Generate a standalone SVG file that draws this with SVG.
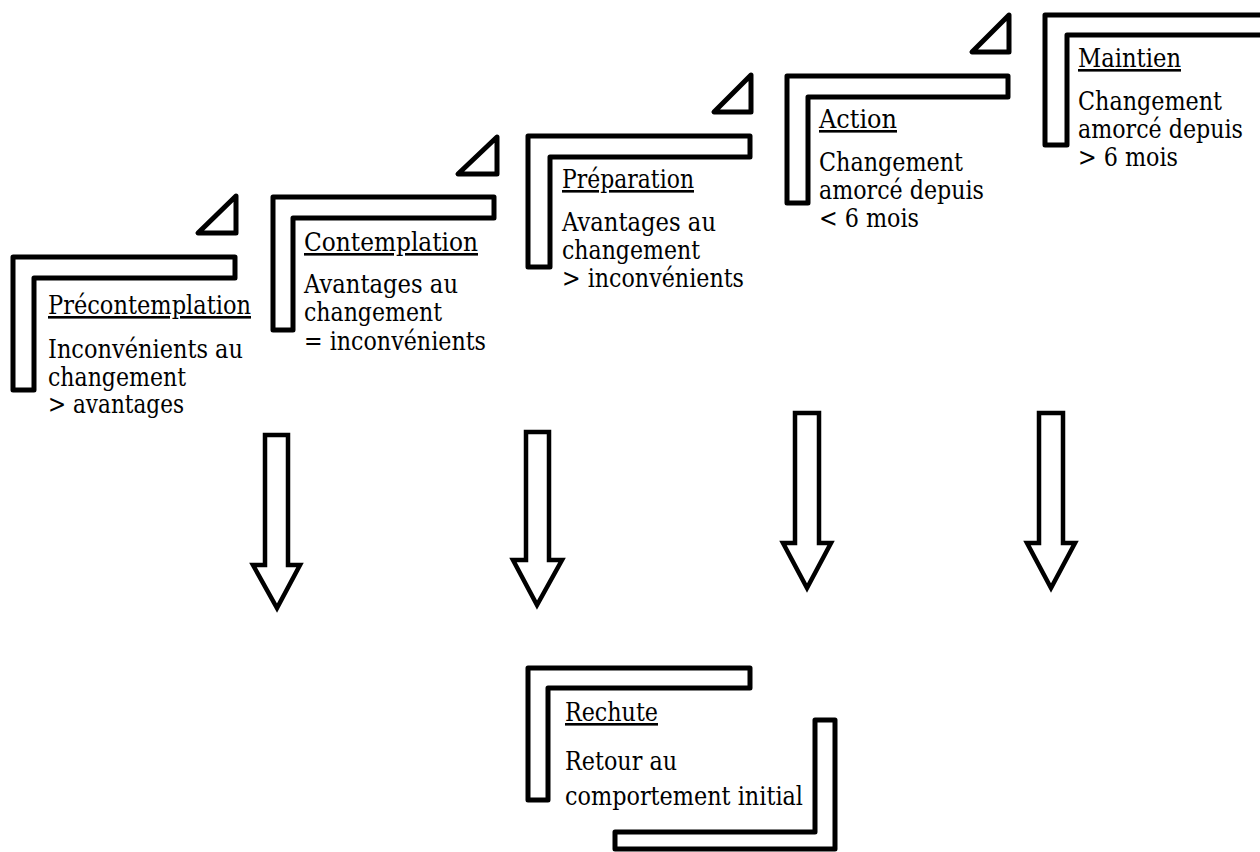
<svg xmlns="http://www.w3.org/2000/svg" width="1260" height="852" viewBox="0 0 1260 852">
  <style>
    .step { fill: none; stroke: #000; stroke-width: 5; stroke-linejoin: round; }
    .tri { fill: none; stroke: #000; stroke-width: 5; stroke-linejoin: round; }
    .arrow { fill: #fff; stroke: #000; stroke-width: 4.5; stroke-linejoin: miter; }
    .title { text-decoration: underline; }
  </style>
  <rect width="1260" height="852" fill="#fff"/>

  <!-- serif labels, each line set to a fixed width -->
  <g font-family="DejaVu Serif, serif" font-size="26" fill="#000">
  <!-- stage 1 -->
  <g id="precontemplation">
    <path class="step" d="M13,257 H235 V278 H34 V390 H13 Z"/>
    <path class="tri" d="M236,196 L198,233 H236 Z"/>
    <text class="title" x="48" y="314" textLength="203" lengthAdjust="spacingAndGlyphs">Précontemplation</text>
    <text x="48" y="358" textLength="195" lengthAdjust="spacingAndGlyphs">Inconvénients au</text>
    <text x="48" y="386" textLength="138" lengthAdjust="spacingAndGlyphs">changement</text>
    <text x="48" y="413" textLength="136" lengthAdjust="spacingAndGlyphs">&gt; avantages</text>
  </g>

  <!-- stage 2 -->
  <g id="contemplation">
    <path class="step" d="M273,197 H494 V218 H293 V330 H273 Z"/>
    <path class="tri" d="M497,137 L458,174 H497 Z"/>
    <text class="title" x="304" y="251" textLength="174" lengthAdjust="spacingAndGlyphs">Contemplation</text>
    <text x="304" y="293" textLength="154" lengthAdjust="spacingAndGlyphs">Avantages au</text>
    <text x="304" y="321" textLength="138" lengthAdjust="spacingAndGlyphs">changement</text>
    <text x="304" y="350" textLength="182" lengthAdjust="spacingAndGlyphs">= inconvénients</text>
  </g>

  <!-- stage 3 -->
  <g id="preparation">
    <path class="step" d="M528,136 H750 V157 H550 V267 H528 Z"/>
    <path class="tri" d="M751,75 L714,112 H751 Z"/>
    <text class="title" x="562" y="188" textLength="132" lengthAdjust="spacingAndGlyphs">Préparation</text>
    <text x="562" y="231" textLength="154" lengthAdjust="spacingAndGlyphs">Avantages au</text>
    <text x="562" y="259" textLength="138" lengthAdjust="spacingAndGlyphs">changement</text>
    <text x="562" y="287" textLength="182" lengthAdjust="spacingAndGlyphs">&gt; inconvénients</text>
  </g>

  <!-- stage 4 -->
  <g id="action">
    <path class="step" d="M787,76 H1008 V97 H808 V203 H787 Z"/>
    <path class="tri" d="M1009,15 L972,52 H1009 Z"/>
    <text class="title" x="819" y="128" textLength="78" lengthAdjust="spacingAndGlyphs">Action</text>
    <text x="819" y="171" textLength="144" lengthAdjust="spacingAndGlyphs">Changement</text>
    <text x="819" y="199" textLength="165" lengthAdjust="spacingAndGlyphs">amorcé depuis</text>
    <text x="819" y="227" textLength="100" lengthAdjust="spacingAndGlyphs">&lt; 6 mois</text>
  </g>

  <!-- stage 5, runs off the right edge -->
  <g id="maintien">
    <path class="step" d="M1045,15 H1275 V35 H1067 V145 H1045 Z"/>
    <text class="title" x="1078" y="67" textLength="103" lengthAdjust="spacingAndGlyphs">Maintien</text>
    <text x="1078" y="110" textLength="144" lengthAdjust="spacingAndGlyphs">Changement</text>
    <text x="1078" y="138" textLength="165" lengthAdjust="spacingAndGlyphs">amorcé depuis</text>
    <text x="1078" y="166" textLength="100" lengthAdjust="spacingAndGlyphs">&gt; 6 mois</text>
  </g>

  <!-- relapse -->
  <g id="rechute">
    <path class="step" d="M528,668 H750 V688 H548 V800 H528 Z"/>
    <path class="step" d="M835,720 V849 H615 V832 H815 V720 Z"/>
    <text class="title" x="565" y="721" textLength="93" lengthAdjust="spacingAndGlyphs">Rechute</text>
    <text x="565" y="770" textLength="112" lengthAdjust="spacingAndGlyphs">Retour au</text>
    <text x="565" y="805" textLength="238" lengthAdjust="spacingAndGlyphs">comportement initial</text>
  </g>
  </g>

  <!-- block arrows pointing down to the relapse -->
  <g id="connectors">
    <path class="arrow" d="M265,435 H288 V565 H300 L277,608 L253,565 H265 Z"/>
    <path class="arrow" d="M526,432 H549 V560 H562 L537,605 L513,560 H526 Z"/>
    <path class="arrow" d="M795,413 H819 V543 H831 L807,588 L783,543 H795 Z"/>
    <path class="arrow" d="M1039,413 H1063 V543 H1075 L1051,588 L1027,543 H1039 Z"/>
  </g>
</svg>
